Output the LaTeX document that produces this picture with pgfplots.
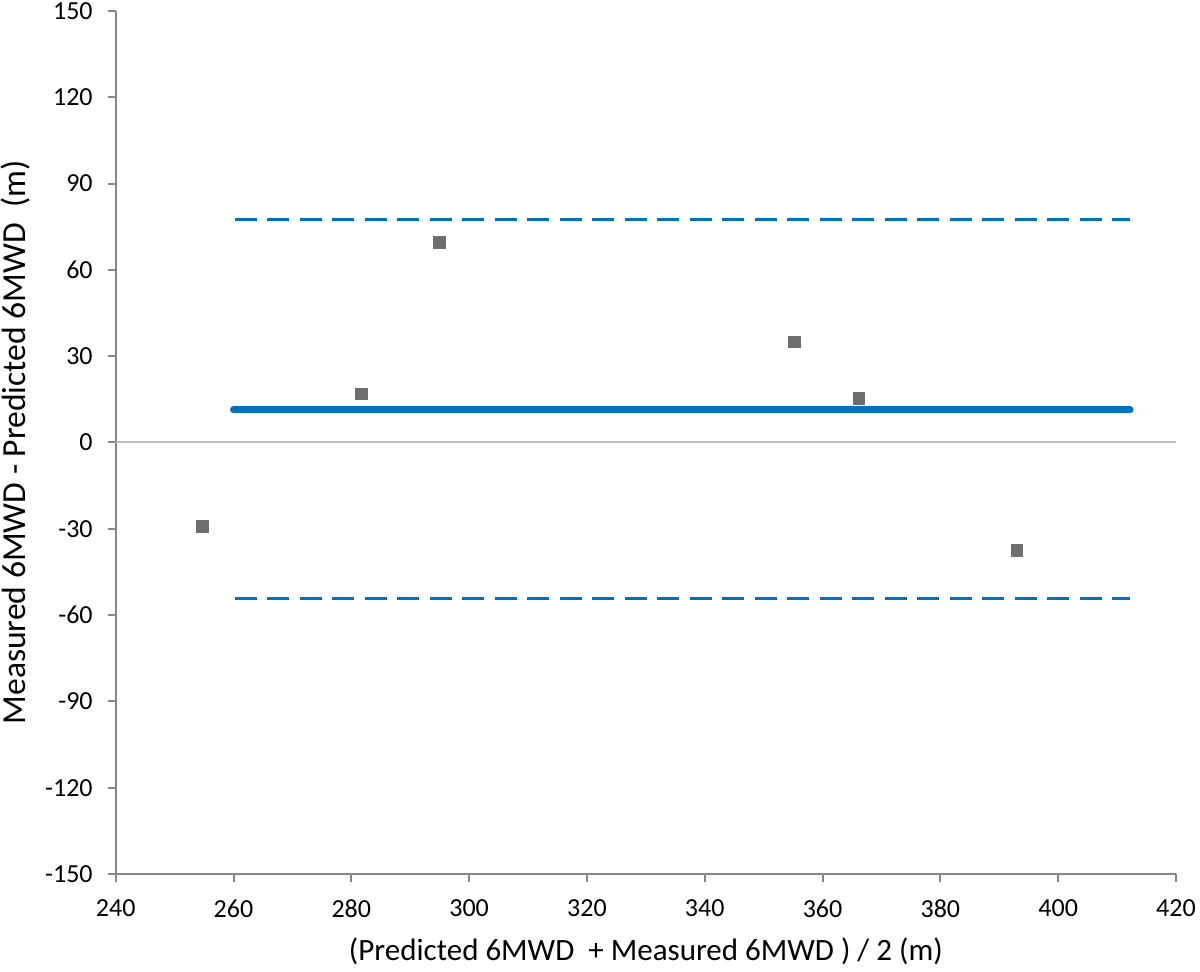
\documentclass[border=0pt]{standalone}
\usepackage{pgfplots}
\pgfplotsset{compat=1.18}
\usepackage{fontspec}
\setmainfont{Carlito}
\definecolor{axgray}{HTML}{868686}
\definecolor{zerogray}{HTML}{BFBFBF}
\definecolor{meanblue}{HTML}{0070C0}
\definecolor{ptgray}{HTML}{6E6E6E}
\begin{document}
\begin{tikzpicture}
\useasboundingbox (0,0) rectangle (600pt,486pt);
\begin{axis}[
  at={(57.85pt,49pt)}, anchor=south west,
  scale only axis, width=530.15pt, height=431.5pt,
  xmin=240, xmax=420, ymin=-150, ymax=150,
  xtick={240,260,...,420}, ytick={-150,-120,...,150},
  axis x line*=bottom, axis y line*=left,
  axis line style={draw=axgray, line width=1pt, -},
  tick align=outside, major tick length=4pt,
  tick style={axgray, line width=1pt},
  ticklabel style={font=\fontsize{13}{15}\selectfont, text=black},
  /pgf/number format/assume math mode=true,
  xticklabel style={yshift=-5.5pt},
  yticklabel style={xshift=-4pt},
  xlabel={(Predicted 6MWD\ \ + Measured 6MWD ) / 2 (m)},
  ylabel={Measured 6MWD - Predicted 6MWD\ \ (m)},
  xlabel style={font=\fontsize{15.5}{18}\selectfont, yshift=-3pt},
  ylabel style={font=\fontsize{16.8}{19}\selectfont, at={(axis description cs:0,0.5)}, anchor=north, inner sep=0pt, yshift=57.35pt},
  extra y ticks={0}, extra y tick labels={},
  extra y tick style={grid=major, major grid style={zerogray, line width=1pt}},
  clip=false,
]
\addplot[only marks, mark=square*, mark size=2.9pt, mark options={fill=ptgray, draw=ptgray}]
  coordinates {(254.7,-29.2) (281.7,16.9) (295.0,69.6) (355.2,34.9) (366.2,15.4) (393.0,-37.5)};
\addplot[meanblue, line width=3.5pt, line cap=round] coordinates {(260,11.3) (412.2,11.3)};
\addplot[meanblue, line width=1.6pt, dash pattern=on 11pt off 5.25pt] coordinates {(260.2,77.5) (412.2,77.5)};
\addplot[meanblue, line width=1.6pt, dash pattern=on 11pt off 5.25pt] coordinates {(260.2,-54.3) (412.2,-54.3)};
\end{axis}
\end{tikzpicture}
\end{document}
